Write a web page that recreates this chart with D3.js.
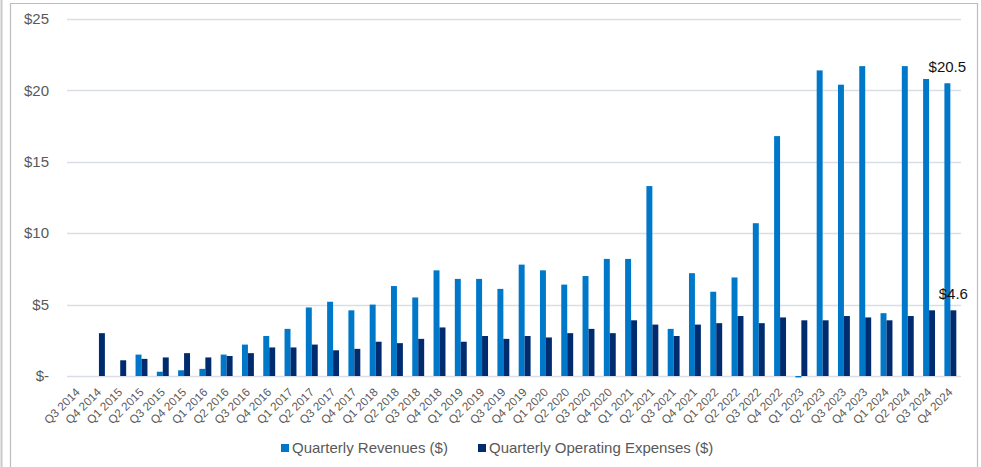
<!DOCTYPE html>
<html>
<head>
<meta charset="utf-8">
<script src="https://cdn.jsdelivr.net/npm/d3@7"></script>
<style>
  html, body { margin: 0; padding: 0; background: #fff; }
  svg { display: block; font-family: "Liberation Sans", Arial, sans-serif; }
</style>
</head>
<body>
<svg id="chart" width="981" height="467"></svg>
<script>
// Quarter labels
const quarters = [
  "Q3 2014","Q4 2014",
  "Q1 2015","Q2 2015","Q3 2015","Q4 2015",
  "Q1 2016","Q2 2016","Q3 2016","Q4 2016",
  "Q1 2017","Q2 2017","Q3 2017","Q4 2017",
  "Q1 2018","Q2 2018","Q3 2018","Q4 2018",
  "Q1 2019","Q2 2019","Q3 2019","Q4 2019",
  "Q1 2020","Q2 2020","Q3 2020","Q4 2020",
  "Q1 2021","Q2 2021","Q3 2021","Q4 2021",
  "Q1 2022","Q2 2022","Q3 2022","Q4 2022",
  "Q1 2023","Q2 2023","Q3 2023","Q4 2023",
  "Q1 2024","Q2 2024","Q3 2024","Q4 2024"
];

// Quarterly revenues ($), null where nothing was reported
const revenues = [
  null, null,
  null, 1.5, 0.3, 0.4,
  0.5, 1.5, 2.2, 2.8,
  3.3, 4.8, 5.2, 4.6,
  5.0, 6.3, 5.5, 7.4,
  6.8, 6.8, 6.1, 7.8,
  7.4, 6.4, 7.0, 8.2,
  8.2, 13.3, 3.3, 7.2,
  5.9, 6.9, 10.7, 16.8,
  -0.1, 21.4, 20.4, 21.7,
  4.4, 21.7, 20.8, 20.5
];

// Quarterly operating expenses ($)
const expenses = [
  null, 3.0,
  1.1, 1.2, 1.3, 1.6,
  1.3, 1.4, 1.6, 2.0,
  2.0, 2.2, 1.8, 1.9,
  2.4, 2.3, 2.6, 3.4,
  2.4, 2.8, 2.6, 2.8,
  2.7, 3.0, 3.3, 3.0,
  3.9, 3.6, 2.8, 3.6,
  3.7, 4.2, 3.7, 4.1,
  3.9, 3.9, 4.2, 4.1,
  3.9, 4.2, 4.6, 4.6
];

const yTicks = [0, 5, 10, 15, 20, 25];

const seriesNames = ["Quarterly Revenues ($)", "Quarterly Operating Expenses ($)"];
const seriesColors = ["#0078C9", "#002B6F"];
const seriesValues = [revenues, expenses];

const svg = d3.select("#chart");
const W = 981, H = 467;
const margin = { left: 67, right: 20, top: 19, bottom: 91 };

// outer frame
svg.append("line")
  .attr("x1", 1.5).attr("x2", 1.5).attr("y1", 0).attr("y2", H)
  .attr("stroke", "#C9C9C9").attr("stroke-width", 2);
svg.append("path")
  .attr("d", `M10.5,${H + 2}V3.5H977.5V${H + 2}`)
  .attr("fill", "none").attr("stroke", "#BDBDBD").attr("stroke-width", 1.2);

const x = d3.scaleBand()
  .domain(quarters)
  .range([margin.left, W - margin.right])
  .paddingInner(0.44)
  .paddingOuter(0.22);

const xInner = d3.scaleBand()
  .domain([0, 1])
  .range([0, x.bandwidth()]);

const y = d3.scaleLinear()
  .domain([0, 25])
  .range([H - margin.bottom, margin.top]);

// gridlines
svg.append("g")
  .selectAll("line")
  .data(yTicks)
  .join("line")
  .attr("x1", margin.left).attr("x2", W - margin.right)
  .attr("y1", d => Math.round(y(d)) + 0.5).attr("y2", d => Math.round(y(d)) + 0.5)
  .attr("stroke", "#D9DEE7").attr("stroke-width", 1.3);

// y labels
const fmt = d => d === 0 ? "$-" : "$" + d;
svg.append("g")
  .selectAll("text")
  .data(yTicks)
  .join("text")
  .attr("x", 49)
  .attr("y", d => y(d))
  .attr("dy", "0.35em")
  .attr("text-anchor", "end")
  .attr("font-size", 15)
  .attr("fill", "#595959")
  .text(fmt);

// bars
const groups = svg.append("g")
  .selectAll("g")
  .data(seriesValues)
  .join("g")
  .attr("fill", (d, i) => seriesColors[i]);

groups.each(function (vals, si) {
  d3.select(this).selectAll("rect")
    .data(vals.map((v, i) => ({ q: quarters[i], v })).filter(d => d.v !== null))
    .join("rect")
    .attr("x", d => x(d.q) + xInner(si))
    .attr("width", xInner.bandwidth())
    .attr("y", d => y(Math.max(0, d.v)))
    .attr("height", d => Math.abs(y(d.v) - y(0)));
});

// data labels on the last quarter
const last = quarters.length - 1;
const labels = [
  { si: 0, v: revenues[last] },
  { si: 1, v: expenses[last] }
];
svg.append("g")
  .selectAll("text")
  .data(labels)
  .join("text")
  .attr("x", d => x(quarters[last]) + xInner(d.si) + xInner.bandwidth() / 2)
  .attr("y", d => y(d.v) - 11)
  .attr("text-anchor", "middle")
  .attr("font-size", 15)
  .attr("fill", "#111")
  .text(d => "$" + d.v.toFixed(1));

// x labels, rotated
svg.append("g")
  .selectAll("text")
  .data(quarters)
  .join("text")
  .attr("transform", d => `translate(${x(d) + x.bandwidth() / 2 + 3},${y(0) + 17}) rotate(-45)`)
  .attr("text-anchor", "end")
  .attr("font-size", 11.7)
  .attr("fill", "#595959")
  .text(d => d);

// legend
const legend = svg.append("g");
const legendItems = [
  { x: 281, name: seriesNames[0], color: seriesColors[0] },
  { x: 478, name: seriesNames[1], color: seriesColors[1] }
];
const li = legend.selectAll("g").data(legendItems).join("g")
  .attr("transform", d => `translate(${d.x},444)`);
li.append("rect").attr("width", 8).attr("height", 8).attr("fill", d => d.color);
li.append("text")
  .attr("x", 11).attr("y", 8.5)
  .attr("font-size", 15)
  .attr("fill", "#595959")
  .text(d => d.name);
</script>
</body>
</html>
